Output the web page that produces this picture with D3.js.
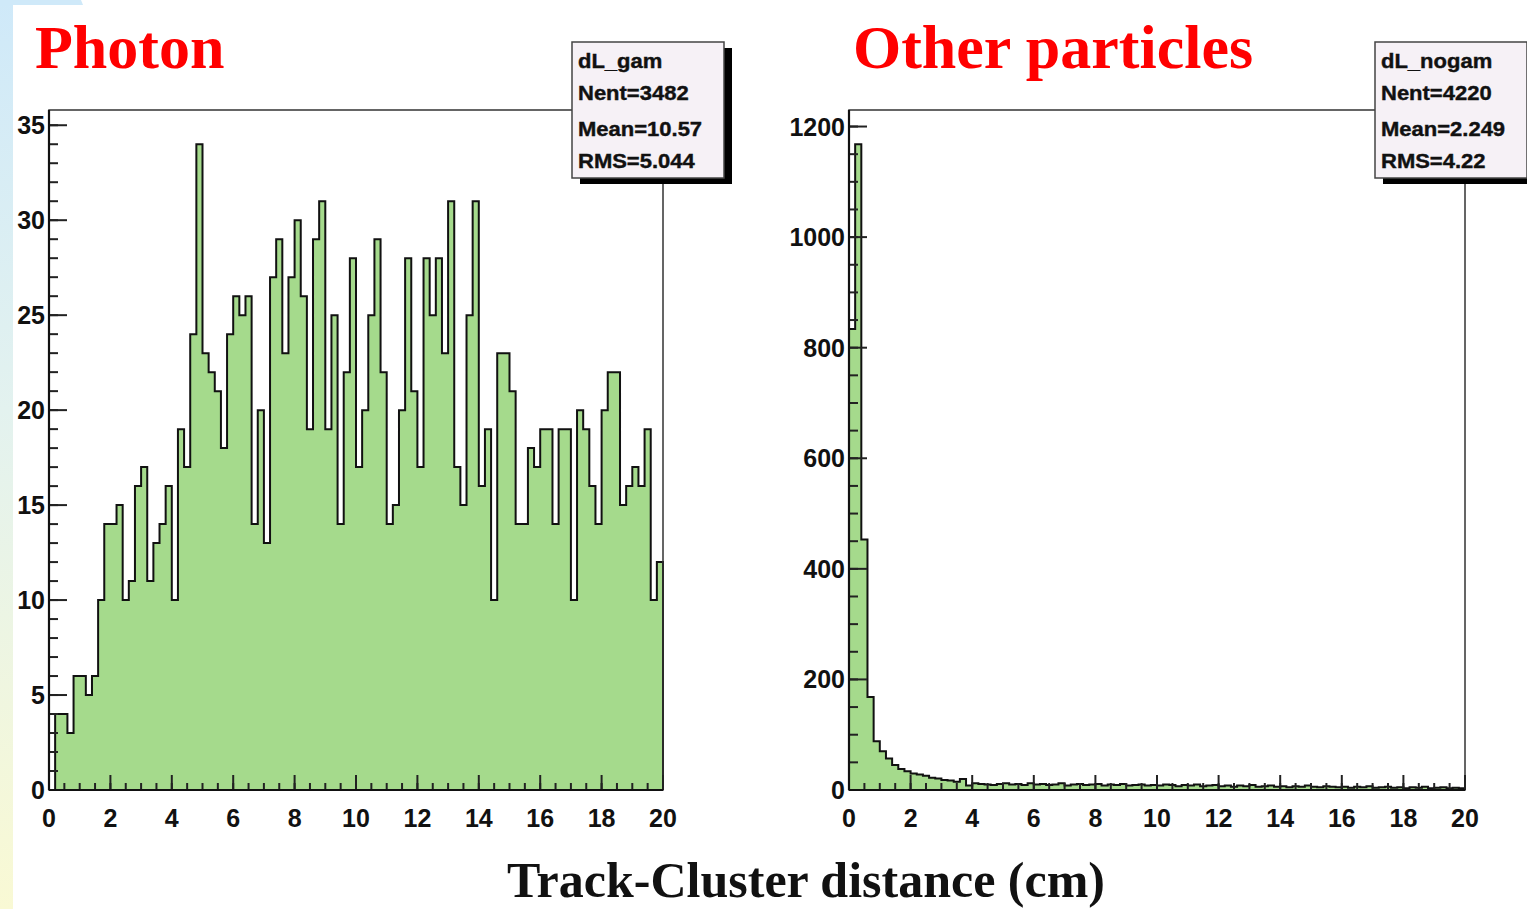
<!DOCTYPE html>
<html>
<head>
<meta charset="utf-8">
<script src="https://cdn.jsdelivr.net/npm/d3@7"></script>
<style>
  html, body { margin: 0; padding: 0; background: #ffffff; }
  svg { display: block; }
</style>
</head>
<body>
<svg id="chart" width="1527" height="909"></svg>
<script>
// Track-cluster distance histograms, 100 bins of 0.2 cm over [0, 20]
const binEdges = [0, 20];
const nBins = 100;

// photon candidates (dL_gam)
const photonCounts = [
  0, 4, 4, 3, 6, 6, 5, 6, 10, 14,
  14, 15, 10, 11, 16, 17, 11, 13, 14, 16,
  10, 19, 17, 24, 34, 23, 22, 21, 18, 24,
  26, 25, 26, 14, 20, 13, 27, 29, 23, 27,
  30, 26, 19, 29, 31, 19, 25, 14, 22, 28,
  17, 20, 25, 29, 22, 14, 15, 20, 28, 21,
  17, 28, 25, 28, 23, 31, 17, 15, 25, 31,
  16, 19, 10, 23, 23, 21, 14, 14, 18, 17,
  19, 19, 14, 19, 19, 10, 20, 19, 16, 14,
  20, 22, 22, 15, 16, 17, 16, 19, 10, 12
];

// other particles (dL_nogam)
const otherCounts = [
  834, 1168, 453, 168, 88, 70, 57, 45, 38, 34,
  30, 28, 26, 22, 21, 18, 17, 15, 20, 8,
  12, 11, 10, 9, 11, 12, 10, 11, 9, 12,
  10, 11, 9, 10, 12, 8, 10, 11, 9, 10,
  11, 8, 10, 9, 11, 8, 9, 10, 8, 9,
  8, 10, 9, 7, 9, 8, 10, 7, 8, 9,
  7, 8, 6, 8, 7, 9, 6, 7, 8, 6,
  7, 5, 7, 6, 8, 6, 5, 7, 6, 5,
  6, 4, 6, 5, 7, 4, 5, 6, 4, 5,
  3, 5, 4, 6, 3, 4, 5, 3, 4, 3
];

const panelTitles = ["Photon", "Other particles"];
const statNames = ["dL_gam", "dL_nogam"];
const statLines = [
  ["Nent=3482", "Mean=10.57", "RMS=5.044"],
  ["Nent=4220", "Mean=2.249", "RMS=4.22"]
];
const xTickValues = [0, 2, 4, 6, 8, 10, 12, 14, 16, 18, 20];
const yTickValues = [
  [0, 5, 10, 15, 20, 25, 30, 35],
  [0, 200, 400, 600, 800, 1000, 1200]
];
const yMinorStep = [1, 50];
const xMinorStep = 0.5;
const xTitle = "Track-Cluster distance (cm)";

const svg = d3.select("#chart");

// ----- page background: pale side strip with a tinted corner -----
const defs = svg.append("defs");
const grad = defs.append("linearGradient")
  .attr("id", "strip").attr("x1", 0).attr("y1", 0).attr("x2", 0).attr("y2", 1);
grad.append("stop").attr("offset", "0%").attr("stop-color", "#cfe9f9");
grad.append("stop").attr("offset", "45%").attr("stop-color", "#e3f2ef");
grad.append("stop").attr("offset", "100%").attr("stop-color", "#f9f9d4");

svg.append("rect").attr("x", 0).attr("y", 0).attr("width", 1527).attr("height", 909).attr("fill", "#ffffff");
svg.append("rect").attr("x", 0).attr("y", 0).attr("width", 13).attr("height", 909).attr("fill", "url(#strip)");
svg.append("path").attr("d", "M0,0 L81,0 L83,5 L0,5 Z").attr("fill", "#cfe9f9");

// ----- panel layout -----
const panels = [
  { counts: photonCounts, left: 49, right: 663, top: 110, bottom: 790, titleX: 35, boxX: 572 },
  { counts: otherCounts, left: 849, right: 1465, top: 110, bottom: 790, titleX: 853, boxX: 1375 }
];

const binWidth = (binEdges[1] - binEdges[0]) / nBins;

panels.forEach((p, k) => {
  const g = svg.append("g");
  const x = d3.scaleLinear().domain(binEdges).range([p.left, p.right]);
  const yMax = 1.053 * d3.max(p.counts);
  const y = d3.scaleLinear().domain([0, yMax]).range([p.bottom, p.top]);

  // step points: baseline start, every bin, closing edge
  const pts = [{ x: 0, v: 0 }]
    .concat(p.counts.map((v, i) => ({ x: binEdges[0] + i * binWidth, v })))
    .concat([{ x: binEdges[1], v: p.counts[p.counts.length - 1] }, { x: binEdges[1], v: 0 }]);

  const area = d3.area().curve(d3.curveStepAfter)
    .x(d => x(d.x)).y0(y(0)).y1(d => y(d.v));
  const line = d3.line().curve(d3.curveStepAfter)
    .x(d => x(d.x)).y(d => y(d.v));

  g.append("path").attr("d", area(pts)).attr("fill", "#a5da8c");
  g.append("path").attr("d", line(pts)).attr("fill", "none")
    .attr("stroke", "#111").attr("stroke-width", 2).attr("stroke-linejoin", "miter");

  // frame
  g.append("rect").attr("x", p.left).attr("y", p.top)
    .attr("width", p.right - p.left).attr("height", p.bottom - p.top)
    .attr("fill", "none").attr("stroke", "#333").attr("stroke-width", 1.5);

  // y axis ticks pointing inward
  const yMinor = d3.range(0, yMax + 1e-9, yMinorStep[k]);
  const yMajor = yTickValues[k];
  g.selectAll(".ymin").data(yMinor).join("line")
    .attr("x1", p.left).attr("x2", p.left + 9)
    .attr("y1", d => y(d)).attr("y2", d => y(d))
    .attr("stroke", "#222").attr("stroke-width", 2);
  g.selectAll(".ymaj").data(yMajor).join("line")
    .attr("x1", p.left).attr("x2", p.left + 18)
    .attr("y1", d => y(d)).attr("y2", d => y(d))
    .attr("stroke", "#222").attr("stroke-width", 2);
  g.selectAll(".ylab").data(yMajor).join("text")
    .attr("x", p.left - 4).attr("y", d => y(d))
    .attr("dy", "0.36em").attr("text-anchor", "end")
    .attr("font-family", "Liberation Sans, Arial, sans-serif")
    .attr("font-weight", "bold").attr("font-size", 25)
    .attr("fill", "#111")
    .text(d => d);

  // x axis ticks pointing inward
  const xMinor = d3.range(binEdges[0], binEdges[1] + 1e-9, xMinorStep);
  g.selectAll(".xmin").data(xMinor).join("line")
    .attr("x1", d => x(d)).attr("x2", d => x(d))
    .attr("y1", p.bottom).attr("y2", p.bottom - 7)
    .attr("stroke", "#222").attr("stroke-width", 2);
  g.selectAll(".xmaj").data(xTickValues).join("line")
    .attr("x1", d => x(d)).attr("x2", d => x(d))
    .attr("y1", p.bottom).attr("y2", p.bottom - 15)
    .attr("stroke", "#222").attr("stroke-width", 2);
  g.selectAll(".xlab").data(xTickValues).join("text")
    .attr("x", d => x(d)).attr("y", p.bottom + 37)
    .attr("text-anchor", "middle")
    .attr("font-family", "Liberation Sans, Arial, sans-serif")
    .attr("font-weight", "bold").attr("font-size", 25)
    .attr("fill", "#111")
    .text(d => d);

  // axis lines
  g.append("line").attr("x1", p.left).attr("x2", p.left).attr("y1", p.top).attr("y2", p.bottom)
    .attr("stroke", "#111").attr("stroke-width", 2.2);
  g.append("line").attr("x1", p.left).attr("x2", p.right).attr("y1", p.bottom).attr("y2", p.bottom)
    .attr("stroke", "#111").attr("stroke-width", 2.2);

  // stats box with drop shadow
  const bx = p.boxX, by = 42, bw = 152, bh = 136;
  g.append("rect").attr("x", bx + 8).attr("y", by + 6).attr("width", bw).attr("height", bh).attr("fill", "#000");
  g.append("rect").attr("x", bx).attr("y", by).attr("width", bw).attr("height", bh)
    .attr("fill", "#f6f1f6").attr("stroke", "#444").attr("stroke-width", 1.5);
  const lines = [statNames[k]].concat(statLines[k]);
  const baselines = [68, 100, 136, 168];
  lines.forEach((t, i) => {
    g.append("text")
      .attr("transform", `translate(${bx + 6},${baselines[i]}) scale(1.1,1)`)
      .attr("font-family", "Liberation Sans, Arial, sans-serif")
      .attr("font-weight", "bold").attr("font-size", 20)
      .attr("fill", "#111")
      .attr("stroke", "#111").attr("stroke-width", 0.4)
      .text(t);
  });

  // panel title
  svg.append("text")
    .attr("x", p.titleX).attr("y", 68)
    .attr("font-family", "Liberation Serif, Times New Roman, serif")
    .attr("font-weight", "bold").attr("font-size", 62)
    .attr("fill", "#ff0000")
    .text(panelTitles[k]);
});

// common x title
svg.append("text")
  .attr("x", 806).attr("y", 897)
  .attr("text-anchor", "middle")
  .attr("font-family", "Liberation Serif, Times New Roman, serif")
  .attr("font-weight", "bold").attr("font-size", 50)
  .attr("fill", "#111")
  .text(xTitle);
</script>
</body>
</html>
